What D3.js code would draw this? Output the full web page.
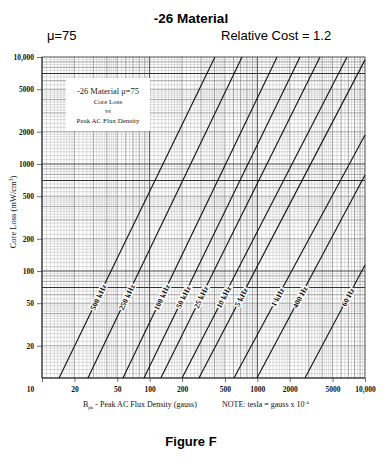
<!DOCTYPE html>
<html>
<head>
<meta charset="utf-8">
<script src="https://cdn.jsdelivr.net/npm/d3@7"></script>
<style>
  body { margin: 0; background: #fff; }
</style>
</head>
<body>
<div id="chart"></div>
<script>
// frequency curves: each a straight run on log-log paper
const freqLabels = ["500 kHz", "250 kHz", "100 kHz", "50 kHz", "25 kHz", "10 kHz", "5 kHz", "1 kHz", "400 Hz", "60 Hz"];
const fluxStart = [14.4, 26.7, 56.5, 88.5, 127, 200, 287, 607, 993, 2770];
const lossStart = [10, 10, 10, 10, 10, 10, 10, 10, 10, 10];
const fluxEnd = [404, 721, 1524, 2490, 3820, 6810, 10000, 10000, 10000, 10000];
const lossEnd = [10000, 10000, 10000, 10000, 10000, 10000, 9400, 1870, 790, 114];

const xTicks = [10, 20, 50, 100, 200, 500, 1000, 2000, 5000, 10000];
const yTicks = [20, 50, 100, 200, 500, 1000, 2000, 5000, 10000];
const heavyLoss = [70, 700, 7000]; // darker rules printed on the log paper

const W = 390, H = 468;
const pL = 42, pR = 365, pT = 57, pB = 378;
const serif = "'Liberation Serif', 'DejaVu Serif', serif";
const sans = "'Liberation Sans', Arial, sans-serif";

const svg = d3.select("#chart").append("svg")
  .attr("width", W).attr("height", H)
  .style("background", "#fff");

const x = d3.scaleLog().domain([10, 10000]).range([pL, pR]);
const y = d3.scaleLog().domain([10, 10000]).range([pB, pT]);

// log paper subdivisions
function paperValues() {
  const out = [];
  for (let d = 10; d < 10000; d *= 10) {
    let m = 1;
    while (m < 10 - 1e-9) {
      out.push({ v: m * d, whole: Math.abs(m - Math.round(m)) < 1e-6, decade: Math.abs(m - 1) < 1e-6 });
      m += m < 2 - 1e-9 ? 0.1 : (m < 5 - 1e-9 ? 0.2 : 0.5);
      m = Math.round(m * 10) / 10;
    }
  }
  return out;
}
const gv = paperValues();

const grid = svg.append("g");
const drawGrid = (filter, color, width) => {
  grid.append("g").selectAll("line").data(gv.filter(filter)).join("line")
    .attr("x1", d => x(d.v)).attr("x2", d => x(d.v))
    .attr("y1", pT).attr("y2", pB)
    .attr("stroke", color).attr("stroke-width", width);
  grid.append("g").selectAll("line").data(gv.filter(filter)).join("line")
    .attr("y1", d => y(d.v)).attr("y2", d => y(d.v))
    .attr("x1", pL).attr("x2", pR)
    .attr("stroke", color).attr("stroke-width", width);
};
drawGrid(d => !d.whole, "#b4b4b4", 0.45);
drawGrid(d => d.whole && !d.decade, "#6e6e6e", 0.6);
drawGrid(d => d.decade, "#333", 0.9);

grid.append("g").selectAll("line").data(heavyLoss).join("line")
  .attr("y1", d => y(d)).attr("y2", d => y(d))
  .attr("x1", pL).attr("x2", pR)
  .attr("stroke", "#333").attr("stroke-width", 1.1);

// frame
svg.append("rect")
  .attr("x", pL).attr("y", pT)
  .attr("width", pR - pL).attr("height", pB - pT)
  .attr("fill", "none").attr("stroke", "#222").attr("stroke-width", 0.8);

// legend box
const lg = svg.append("g");
lg.append("rect").attr("x", 66).attr("y", 78).attr("width", 84).attr("height", 53).attr("fill", "#fff");
const lgText = [
  ["-26 Material \u03bc=75", 94, 8.5],
  ["Core Loss", 104, 7],
  ["vs", 113, 6.5],
  ["Peak AC Flux Density", 123, 7]
];
lg.selectAll("text").data(lgText).join("text")
  .attr("x", 108).attr("y", d => d[1])
  .attr("text-anchor", "middle")
  .style("font-family", serif)
  .style("font-size", d => d[2] + "px")
  .style("fill", "#222")
  .text(d => d[0]);

// curves
const curves = freqLabels.map((f, i) => ({
  label: f,
  pts: [[fluxStart[i], lossStart[i]], [fluxEnd[i], lossEnd[i]]]
}));

const line = d3.line().x(d => x(d[0])).y(d => y(d[1]));

svg.append("g").selectAll("path").data(curves).join("path")
  .attr("d", d => line(d.pts))
  .attr("fill", "none")
  .attr("stroke", "#111")
  .attr("stroke-width", 1.1);

// labels sit on each curve at the same core-loss level
const labelLoss = 57;
svg.append("g").selectAll("text").data(curves).join("text")
  .attr("transform", d => {
    const [a, b] = d.pts;
    const t = (Math.log10(labelLoss) - Math.log10(a[1])) / (Math.log10(b[1]) - Math.log10(a[1]));
    const bx = Math.pow(10, Math.log10(a[0]) + t * (Math.log10(b[0]) - Math.log10(a[0])));
    const ang = Math.atan2(y(b[1]) - y(a[1]), x(b[0]) - x(a[0])) * 180 / Math.PI;
    return `translate(${x(bx)},${y(labelLoss)}) rotate(${ang})`;
  })
  .attr("text-anchor", "middle")
  .attr("dy", "0.35em")
  .style("font-family", serif)
  .style("font-weight", "bold")
  .style("font-size", "7.8px")
  .style("fill", "#111")
  .style("stroke", "#fff")
  .style("stroke-width", 2.6)
  .style("paint-order", "stroke")
  .text(d => d.label);

// axes
const fmt = d => d === 10000 ? "10,000" : String(d);

const yAxis = svg.append("g")
  .attr("transform", `translate(${pL},0)`)
  .call(d3.axisLeft(y).tickValues(yTicks).tickFormat(fmt).tickSize(5).tickPadding(3));
yAxis.select(".domain").remove();

const xAxis = svg.append("g")
  .attr("transform", `translate(0,${pB})`)
  .call(d3.axisBottom(x).tickValues(xTicks).tickFormat(fmt).tickSize(4).tickPadding(5));
xAxis.select(".domain").remove();
xAxis.selectAll(".tick").filter(d => d === 10).select("text").attr("x", -12);

svg.selectAll(".tick line").attr("stroke", "#333").attr("stroke-width", 0.7);
svg.selectAll(".tick text")
  .style("font-family", serif)
  .style("font-weight", "bold")
  .style("font-size", "7.5px")
  .style("fill", "#111");

// axis titles
svg.append("text")
  .attr("transform", `translate(16,212) rotate(-90)`)
  .attr("text-anchor", "middle")
  .style("font-family", serif)
  .style("font-size", "8.5px")
  .style("fill", "#111")
  .html("Core Loss (mW/cm<tspan dy='-3' font-size='5.5px'>3</tspan><tspan dy='3'>)</tspan>");

const xt = svg.append("text")
  .attr("x", 83).attr("y", 407)
  .style("font-family", serif)
  .style("font-size", "8px")
  .style("fill", "#111");
xt.append("tspan").text("B");
xt.append("tspan").attr("dy", 2).style("font-size", "5px").text("pk");
xt.append("tspan").attr("dy", -2).text(" - Peak AC Flux Density (gauss)");
xt.append("tspan").attr("x", 222).text("NOTE: tesla = gauss x 10");
xt.append("tspan").attr("dy", -3).style("font-size", "5px").text("-4");

// titles
svg.append("text")
  .attr("x", 191).attr("y", 23)
  .attr("text-anchor", "middle")
  .style("font-family", sans)
  .style("font-weight", "bold")
  .style("font-size", "13.5px")
  .text("-26 Material");

svg.append("text")
  .attr("x", 47).attr("y", 40)
  .style("font-family", sans)
  .style("font-size", "13px")
  .text("\u03bc=75");

svg.append("text")
  .attr("x", 221).attr("y", 40)
  .style("font-family", sans)
  .style("font-size", "13px")
  .text("Relative Cost = 1.2");

svg.append("text")
  .attr("x", 191).attr("y", 446)
  .attr("text-anchor", "middle")
  .style("font-family", sans)
  .style("font-weight", "bold")
  .style("font-size", "13px")
  .text("Figure F");
</script>
</body>
</html>
